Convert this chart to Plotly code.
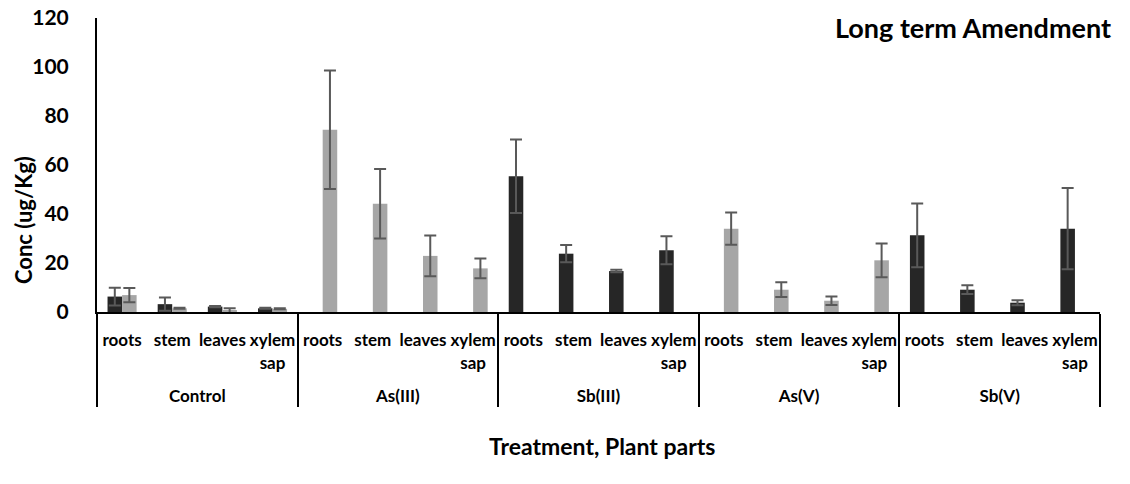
import plotly.graph_objects as go

treatments = ["Control", "As(III)", "Sb(III)", "As(V)", "Sb(V)"]
parts = ["roots", "stem", "leaves", "xylem<br>sap<br>\u00a0"]

# Dark series (Sb) and light series (As); None where no bar is drawn
sb_vals = [6.3, 3.2, 2.2, 1.5,
           None, None, None, None,
           55.4, 23.8, 16.7, 25.2,
           None, None, None, None,
           31.3, 9.1, 3.8, 34.0]
sb_err = [3.6, 2.7, 0.3, 0.2,
          None, None, None, None,
          15.0, 3.5, 0.5, 5.7,
          None, None, None, None,
          13.0, 1.8, 1.0, 16.6]
as_vals = [6.9, 1.5, 0.5, 1.3,
           74.4, 44.2, 22.9, 17.8,
           None, None, None, None,
           34.0, 9.1, 4.6, 21.1,
           None, None, None, None]
as_err = [2.9, 0.2, 1.0, 0.2,
          24.2, 14.2, 8.3, 4.0,
          None, None, None, None,
          6.6, 3.0, 1.7, 6.9,
          None, None, None, None]

x_outer = [t for t in treatments for _ in parts]
x_inner = [p for _ in treatments for p in parts]

FONT = "Lato"
err_style = dict(type="data", symmetric=True, color="#595959", thickness=2, width=6)

fig = go.Figure()
fig.add_trace(go.Bar(
    x=[x_outer, x_inner], y=sb_vals, name="Sb",
    marker=dict(color="#262626", line=dict(width=0)),
    error_y=dict(array=sb_err, **err_style),
))
fig.add_trace(go.Bar(
    x=[x_outer, x_inner], y=as_vals, name="As",
    marker=dict(color="#a6a6a6", line=dict(width=0)),
    error_y=dict(array=as_err, **err_style),
))

PLOT_H = 294.0
PLOT_W = 1003.0
fig.update_layout(
    width=1130, height=484,
    margin=dict(l=97, r=30, t=18, b=172, autoexpand=False),
    paper_bgcolor="white", plot_bgcolor="white",
    barmode="group", bargap=0.42, bargroupgap=0,
    showlegend=False,
    font=dict(family=FONT, color="black"),
    annotations=[
        dict(text="Long term Amendment", xref="paper", yref="paper",
             x=1.013, y=(312 - 27) / PLOT_H, xanchor="right", yanchor="middle",
             showarrow=False,
             font=dict(family=FONT, size=27, weight="bold", color="black")),
        dict(text="Conc (ug/Kg)", xref="paper", yref="paper",
             x=-(97 - 23) / PLOT_W, y=(312 - 220) / PLOT_H, xanchor="center", yanchor="middle",
             textangle=-90, showarrow=False,
             font=dict(family=FONT, size=22, weight="bold", color="black")),
        dict(text="Treatment, Plant parts", xref="paper", yref="paper",
             x=0.503, y=-(446 - 312) / PLOT_H, xanchor="center", yanchor="middle",
             showarrow=False,
             font=dict(family=FONT, size=23, weight="bold", color="black")),
    ],
)
fig.update_xaxes(
    type="multicategory", automargin=False, tickangle=0,
    showline=True, linecolor="black", linewidth=2,
    ticks="", showgrid=False,
    ticklabelstandoff=12,
    showdividers=True, dividercolor="black", dividerwidth=2,
    tickfont=dict(family=FONT, size=17, weight="bold", color="black"),
)
fig.update_yaxes(
    range=[0, 120], dtick=20, automargin=False,
    showline=True, linecolor="black", linewidth=2,
    ticks="", showgrid=False, zeroline=False,
    ticklabelstandoff=22, ticklabeloverflow="allow",
    tickfont=dict(family=FONT, size=21, weight="bold", color="black"),
)

fig.write_html("out.html", config={"displayModeBar": False},
               post_script="document.body.style.margin='0';")
